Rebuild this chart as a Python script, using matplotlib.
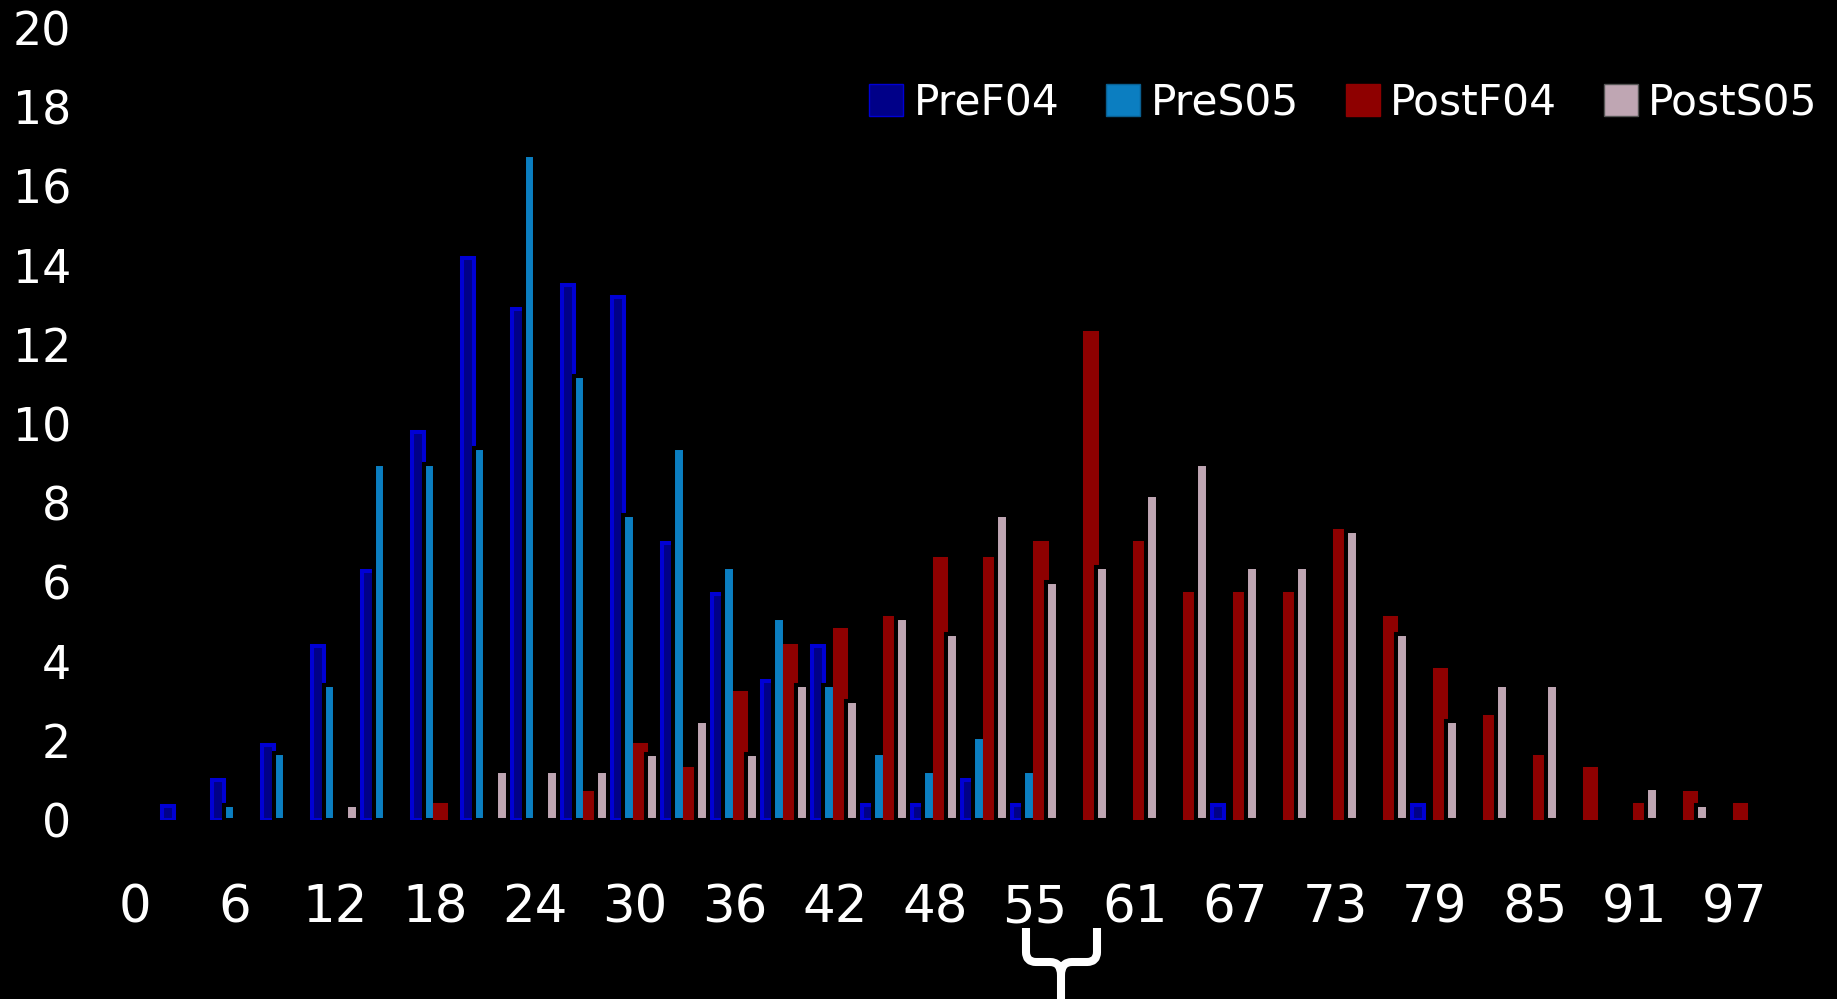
import numpy as np
import matplotlib
matplotlib.use('Agg')
import matplotlib.pyplot as plt
from matplotlib.path import Path
from matplotlib.patches import PathPatch, Patch

# 33 bins (width 100/33), a label on every second bin
tick_labels = ['0', '6', '12', '18', '24', '30', '36', '42', '48',
               '55', '61', '67', '73', '79', '85', '91', '97']
series = ['PreF04', 'PreS05', 'PostF04', 'PostS05']

pre_f04 = [0, 0.35, 1.0, 1.9, 4.4, 6.3, 9.8, 14.2, 12.9, 13.5, 13.2, 7.0, 5.7, 3.5,
           4.4, 0.37, 0.37, 1.0, 0.37, 0, 0, 0, 0.37, 0, 0, 0, 0.37, 0, 0, 0, 0, 0, 0]
pre_s05 = [0, 0, 0.38, 1.7, 3.4, 9.0, 9.0, 9.4, 16.8, 11.2, 7.7, 9.4, 6.4, 5.1,
           3.4, 1.7, 1.25, 2.1, 1.25, 0, 0, 0, 0, 0, 0, 0, 0, 0, 0, 0, 0, 0, 0]
post_f04 = [0, 0, 0, 0, 0, 0, 0.37, 0, 0, 0.67, 1.9, 1.3, 3.2, 4.4, 4.8, 5.1, 6.6,
            6.6, 7.0, 12.3, 7.0, 5.7, 5.7, 5.7, 7.3, 5.1, 3.8, 2.6, 1.6, 1.3, 0.37, 0.67, 0.37]
post_s05 = [0, 0, 0, 0, 0.38, 0, 0, 1.24, 1.24, 1.24, 1.67, 2.5, 1.67, 3.4, 3.0, 5.1,
            4.7, 7.7, 6.0, 6.4, 8.2, 9.0, 6.4, 6.4, 7.3, 4.7, 2.5, 3.4, 3.4, 0, 0.8, 0.38, 0]

fills = ['#000088', '#0B7EC1', '#8E0000', '#BFA6B3']
edges = ['#0000D4', '#000000', '#8E0000', '#000000']
legend_edges = ['#0000D4', '#0A5F90', '#8E0000', '#555555']
offsets = [-0.342, -0.114, 0.114, 0.342]

W, H = 1837, 999
fig = plt.figure(figsize=(W / 100, H / 100), dpi=100, facecolor='black')
ax = fig.add_axes([85 / W, (H - 820) / H, 1750 / W, 792 / H])
ax.set_facecolor('black')

x = np.arange(len(pre_f04))
for k, vals in enumerate([pre_f04, pre_s05, post_f04, post_s05]):
    v = np.array(vals, dtype=float)
    m = v > 0
    ax.bar(x[m] + offsets[k], v[m], width=0.232, color=fills[k],
           edgecolor=edges[k], linewidth=2.9, zorder=2 + k)

ax.set_xlim(-1, 34)
ax.set_ylim(0, 20)
ax.set_yticks(range(0, 21, 2))
ax.set_xticks(x[::2])
ax.set_xticklabels(tick_labels)
ax.tick_params(axis='y', length=0, pad=10, labelsize=33, labelcolor='white')
ax.tick_params(axis='x', length=0, pad=45.5, labelsize=37, labelcolor='white')
for s in ax.spines.values():
    s.set_visible(False)

handles = [Patch(facecolor=fills[k], edgecolor=legend_edges[k], linewidth=1)
           for k in range(4)]
ax.legend(handles, series, loc='upper right', bbox_to_anchor=(1818 / W, 1 - 82 / H),
          bbox_transform=fig.transFigure, ncol=4, frameon=False, fontsize=30.5,
          labelcolor='white', handlelength=0.8, handleheight=0.8,
          handletextpad=0.25, columnspacing=1.1, borderpad=0, borderaxespad=0)

# brace under 55-61
def fp(px, py):
    return (px / W, 1 - py / H)

verts = [fp(1026, 928), fp(1026, 952), fp(1026, 962), fp(1036, 962), fp(1050, 962),
         fp(1061, 962), fp(1061, 975), fp(1061, 1005),
         fp(1097, 928), fp(1097, 952), fp(1097, 962), fp(1087, 962), fp(1072, 962),
         fp(1061, 962), fp(1061, 975)]
codes = [Path.MOVETO, Path.LINETO, Path.CURVE3, Path.CURVE3, Path.LINETO,
         Path.CURVE3, Path.CURVE3, Path.LINETO,
         Path.MOVETO, Path.LINETO, Path.CURVE3, Path.CURVE3, Path.LINETO,
         Path.CURVE3, Path.CURVE3]
fig.patches.append(PathPatch(Path(verts, codes), transform=fig.transFigure,
                             facecolor='none', edgecolor='white', linewidth=5.8,
                             capstyle='butt', joinstyle='round'))

fig.savefig('out.png', dpi=100, facecolor='black')
